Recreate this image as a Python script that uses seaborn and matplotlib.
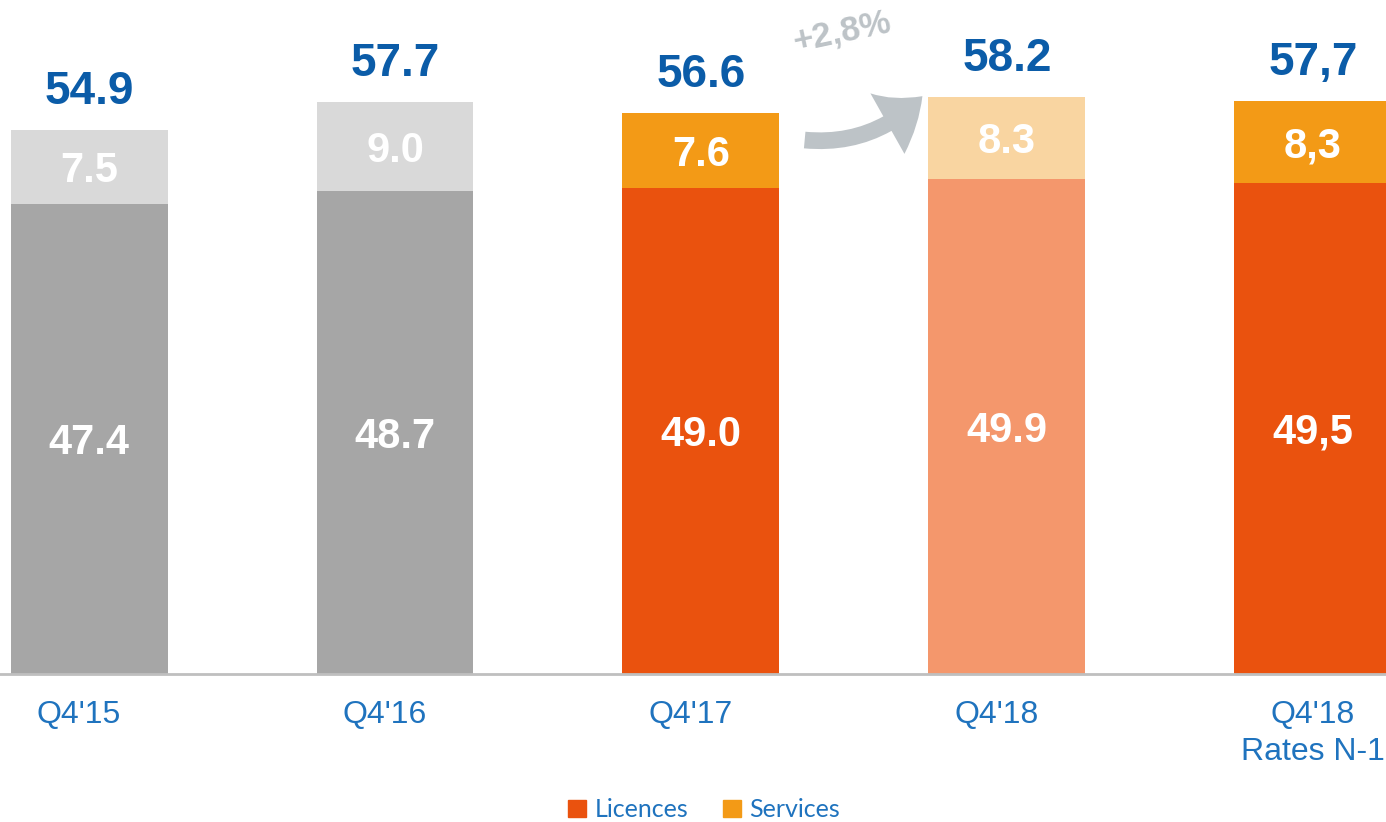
import matplotlib
matplotlib.use("Agg")
import matplotlib.pyplot as plt
import matplotlib.transforms as mtransforms
from matplotlib.patches import FancyArrowPatch, Patch
import seaborn as sns

# chart data
categories = ["Q4'15", "Q4'16", "Q4'17", "Q4'18", "Q4'18\nRates N-1"]
licences = [47.4, 48.7, 49.0, 49.9, 49.5]
services = [7.5, 9.0, 7.6, 8.3, 8.3]
licence_labels = ["47.4", "48.7", "49.0", "49.9", "49,5"]
service_labels = ["7.5", "9.0", "7.6", "8.3", "8,3"]
total_labels = ["54.9", "57.7", "56.6", "58.2", "57,7"]
growth_label = "+2,8%"

# colours per bar
licence_colors = ["#A6A6A6", "#A6A6A6", "#EA520E", "#F4976C", "#EA520E"]
service_colors = ["#D9D9D9", "#D9D9D9", "#F39A16", "#F9D5A1", "#F39A16"]

sns.set_style("white")
plt.rcParams['font.family'] = ['Liberation Sans', 'DejaVu Sans']

fig = plt.figure(figsize=(13.86, 8.22), dpi=100)
ax = fig.add_axes([0, 0.18, 1, 0.82])

totals = [l + s for l, s in zip(licences, services)]
# services drawn as full stack, licences over it
sns.barplot(x=categories, y=totals, hue=categories, palette=service_colors,
            legend=False, width=0.513, saturation=1, linewidth=0, ax=ax)
sns.barplot(x=categories, y=licences, hue=categories, palette=licence_colors,
            legend=False, width=0.513, saturation=1, linewidth=0, ax=ax)

ax.set_xlim(-0.291, 4.239)
ax.set_ylim(0, 68)

for i in range(len(categories)):
    ax.text(i, licences[i] / 2 - 0.4, licence_labels[i], ha="center", va="center",
            color="white", fontsize=30, fontweight="bold")
    ax.text(i, licences[i] + services[i] / 2 - 0.4, service_labels[i], ha="center",
            va="center", color="white", fontsize=30, fontweight="bold")
    ax.text(i, totals[i] + 1.6, total_labels[i], ha="center", va="bottom",
            color="#0B5CA8", fontsize=33, fontweight="bold")

# growth arrow between Q4'17 and Q4'18
arrow = FancyArrowPatch((2.33, 53.9), (2.73, 58.5),
                        connectionstyle="arc3,rad=0.25",
                        arrowstyle="simple,head_width=2.5,head_length=1.6,tail_width=0.6",
                        mutation_scale=20, color="#BDC3C7", lw=0)
ax.add_patch(arrow)
ax.text(2.46, 64.8, growth_label, ha="center", va="center", rotation=12,
        color="#BDC3C7", fontsize=25, fontweight="bold")

sns.despine(ax=ax, left=True, top=True, right=True)
ax.spines["bottom"].set_color("#BFBFBF")
ax.spines["bottom"].set_linewidth(2)
ax.set_yticks([])
ax.set_xlabel("")
ax.set_ylabel("")
ax.tick_params(axis="x", length=0, pad=19, labelsize=23, labelcolor="#1F73BE")
# category labels sit a little left of bar centres (except the clipped last one)
shift = mtransforms.ScaledTranslation(-0.10, 0, fig.dpi_scale_trans)
for lbl in ax.get_xticklabels()[:-1]:
    lbl.set_transform(lbl.get_transform() + shift)
ax.get_xticklabels()[-1].set_linespacing(1.3)

handles = [Patch(color="#EA520E", label="Licences"),
           Patch(color="#F39A16", label="Services")]
fig.legend(handles=handles, loc="center", bbox_to_anchor=(0.508, 0.015), ncol=2,
           frameon=False, handlelength=0.7, handleheight=0.7, handletextpad=0.35,
           columnspacing=1.4, prop={"family": "Lato", "size": 18},
           labelcolor="#1F73BE")

fig.savefig("out.png", dpi=100)
